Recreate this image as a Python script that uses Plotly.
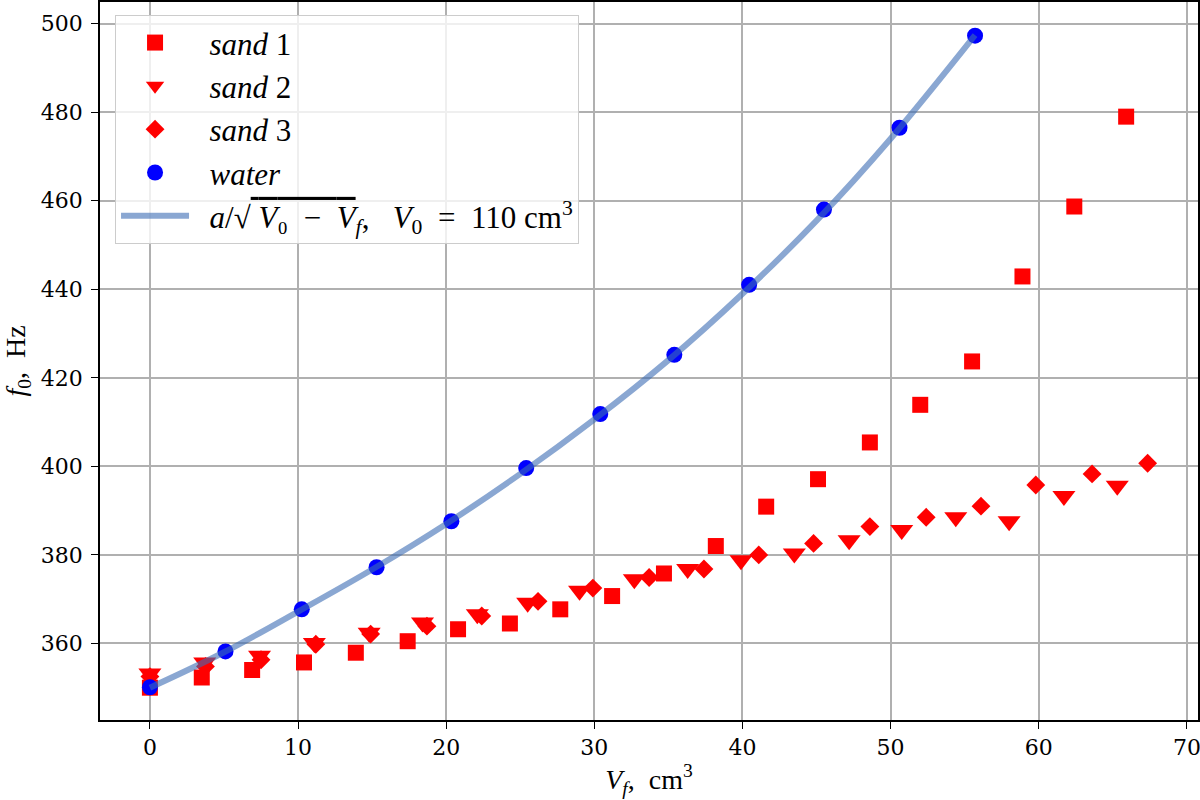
import plotly.graph_objects as go

sand1_v = [0, 3.5, 6.9, 10.4, 13.9, 17.4, 20.8, 24.3, 27.7, 31.2, 34.7, 38.2, 41.6, 45.1, 48.6, 52.0, 55.5, 58.9, 62.4, 65.9]
sand1_f = [350.0, 352.3, 354.0, 355.7, 357.9, 360.5, 363.2, 364.5, 367.7, 370.7, 375.8, 382.0, 390.9, 397.1, 405.4, 413.9, 423.7, 442.9, 458.7, 479.0]

sand2_v = [0, 3.7, 7.4, 11.1, 14.8, 18.4, 22.1, 25.5, 29.0, 32.7, 36.3, 39.9, 43.5, 47.2, 50.75, 54.4, 58.0, 61.7, 65.3]
sand2_f = [353.2, 355.7, 357.2, 360.1, 362.4, 364.7, 366.6, 369.2, 371.9, 374.5, 376.8, 378.8, 380.3, 383.3, 385.6, 388.5, 387.6, 393.3, 395.6]

sand3_v = [0, 3.75, 7.5, 11.2, 14.9, 18.7, 22.4, 26.2, 29.9, 33.7, 37.4, 41.1, 44.8, 48.6, 52.4, 56.1, 59.8, 63.6, 67.35]
sand3_f = [352.5, 354.8, 356.3, 359.8, 362.1, 363.9, 366.2, 369.5, 372.5, 374.9, 376.8, 380.0, 382.6, 386.4, 388.5, 391.0, 395.8, 398.3, 400.7]

water_v = [0, 5.1, 10.25, 15.3, 20.35, 25.4, 30.4, 35.4, 40.45, 45.5, 50.6, 55.7]
water_f = [350.1, 358.2, 367.7, 377.2, 387.6, 399.6, 411.8, 425.2, 441.0, 458.0, 476.5, 497.3]

# fit curve a/sqrt(V0 - Vf)
fit_v = [0, 5, 10, 15, 20, 25, 30, 35, 40, 45, 50, 55.7]
fit_f = [350.0, 358.0, 367.2, 376.7, 387.0, 398.3, 410.6, 424.0, 439.0, 455.5, 474.0, 497.4]

serif = "Liberation Serif, serif"
tickfont = dict(family="DejaVu Serif", size=22, color="black")
pad = "\u2002"

fit_label = (pad + "<i>a</i>/√<span style='text-decoration:overline'> <i>V</i>₀\u2002−\u2002<i>V</i></span>"
             "<sub><i>f</i></sub>,\u2002 <i>V</i><sub>0</sub>\u2002=\u2002110 cm<sup>3</sup>")

fig = go.Figure()
fig.add_trace(go.Scatter(x=sand1_v, y=sand1_f, mode="markers", name=pad + "<i>sand</i> 1",
                         marker=dict(symbol="square", size=16, color="red"), legendgroup="a"))
fig.add_trace(go.Scatter(x=sand2_v, y=sand2_f, mode="markers", name=pad + "<i>sand</i> 2",
                         marker=dict(symbol="triangle-down", size=20, color="red"), legendgroup="b"))
fig.add_trace(go.Scatter(x=sand3_v, y=sand3_f, mode="markers", name=pad + "<i>sand</i> 3",
                         marker=dict(symbol="diamond", size=14.5, color="red"), legendgroup="c"))
fig.add_trace(go.Scatter(x=water_v, y=water_f, mode="markers", name=pad + "<i>water</i>",
                         marker=dict(symbol="circle", size=16, color="blue"), legendgroup="d"))
fig.add_trace(go.Scatter(x=fit_v, y=fit_f, mode="lines", line_shape="spline", name=fit_label,
                         line=dict(color="rgba(60,108,180,0.6)", width=6), legendgroup="e"))

axis_style = dict(showline=True, linecolor="black", linewidth=1.6, mirror=True,
                  ticks="outside", ticklen=7, tickwidth=1.4, tickcolor="black",
                  showgrid=True, gridcolor="#b0b0b0", gridwidth=1.5,
                  zeroline=False, automargin=False, ticklabeloverflow="allow")

fig.update_xaxes(axis_style, range=[-3.37, 70.75], tick0=0, dtick=10, tickfont=tickfont, ticklabelstandoff=0,
                 title=dict(text="<i>V<sub>f</sub></i>,  cm<sup>3</sup>", font=dict(family=serif, size=28, color="black"), standoff=0))
fig.update_yaxes(axis_style, range=[342.7, 504.9], tick0=0, dtick=20, tickfont=tickfont, ticklabelstandoff=4,
                 title=dict(text="<i>f</i><sub>0</sub>,  Hz", font=dict(family=serif, size=28, color="black"), standoff=10))

fig.update_layout(width=1200, height=800, plot_bgcolor="white", paper_bgcolor="white",
                  margin=dict(l=100, r=2, t=2, b=80),
                  legend=dict(x=0.0137, y=0.982, xanchor="left", yanchor="top",
                              bgcolor="rgba(255,255,255,0.8)", bordercolor="#cccccc", borderwidth=1,
                              font=dict(family=serif, size=31, color="black"),
                              traceorder="grouped", tracegroupgap=0, itemwidth=68))

fig.write_html("out.html", config={"displayModeBar": False},
               post_script="document.body.style.margin='0';")
